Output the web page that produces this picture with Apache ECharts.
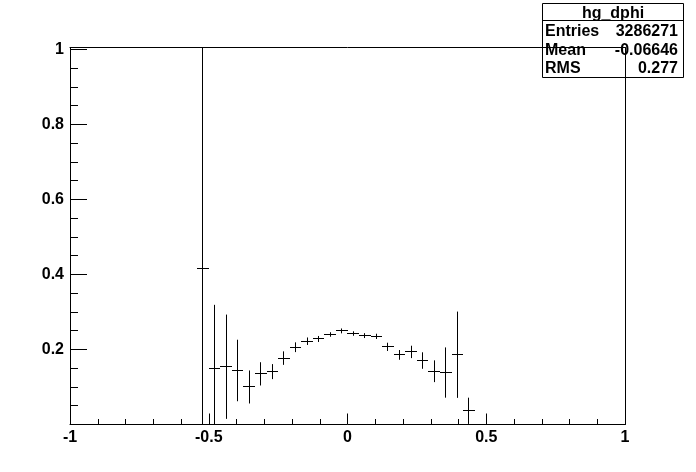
<!DOCTYPE html>
<html><head><meta charset="utf-8">
<script src="https://cdn.jsdelivr.net/npm/echarts@6/dist/echarts.min.js"></script>
<style>html,body{margin:0;padding:0;background:#fff}#c{width:696px;height:472px}</style>
</head><body><div id="c"></div>
<script>
// Histogram hg_dphi: bin centres, contents and errors
const binCenters = [-0.5208, -0.4792, -0.4375, -0.3958, -0.3542, -0.3125, -0.2708, -0.2292,
                    -0.1875, -0.1458, -0.1042, -0.0625, -0.0208, 0.0208, 0.0625, 0.1042,
                    0.1458, 0.1875, 0.2292, 0.2708, 0.3125, 0.3542, 0.3958, 0.4375];
const binValues  = [0.4155, 0.148, 0.154, 0.144, 0.100, 0.135, 0.141, 0.177,
                    0.206, 0.222, 0.228, 0.240, 0.2495, 0.2425, 0.237, 0.235,
                    0.207, 0.1855, 0.1935, 0.1705, 0.142, 0.1385, 0.186, 0.0365];
const binErrors  = [0.62, 0.171, 0.139, 0.082, 0.044, 0.031, 0.020, 0.018,
                    0.013, 0.010, 0.008, 0.006, 0.0065, 0.006, 0.0065, 0.007,
                    0.011, 0.013, 0.0165, 0.022, 0.029, 0.067, 0.115, 0.035];
const binWidth = 0.041667;
const yTickLabels = ['0.2', '0.4', '0.6', '0.8', '1'];
const statsTitle = 'hg_dphi';
const statsNames = ['Entries', 'Mean', 'RMS'];
const statsValues = ['3286271', '-0.06646', '0.277'];

const FONT = 'Liberation Sans, Arial, Helvetica, sans-serif';
const chart = echarts.init(document.getElementById('c'), null, {renderer: 'canvas'});

const snap = v => Math.round(v - 0.5) + 0.5;

const statsChildren = [
  {type: 'rect', shape: {x: 542.5, y: 3.5, width: 141, height: 74},
   style: {fill: '#fff', stroke: '#000', lineWidth: 1}},
  {type: 'line', shape: {x1: 542.5, y1: 20.5, x2: 683.5, y2: 20.5},
   style: {stroke: '#000', lineWidth: 1}},
  {type: 'text', x: 613, y: 13.5, style: {text: statsTitle, fill: '#000', font: 'bold 16px ' + FONT,
   textAlign: 'center', textVerticalAlign: 'middle'}}
];
const rowY = [31.5, 50.5, 68.5];
statsNames.forEach((n, i) => {
  statsChildren.push({type: 'text', x: 545, y: rowY[i], style: {text: n, fill: '#000',
    font: 'bold 16px ' + FONT, textAlign: 'left', textVerticalAlign: 'middle'}});
  statsChildren.push({type: 'text', x: 678, y: rowY[i], style: {text: statsValues[i], fill: '#000',
    font: 'bold 16px ' + FONT, textAlign: 'right', textVerticalAlign: 'middle'}});
});

const labelStyle = {color: '#000', fontFamily: FONT, fontWeight: 'bold', fontSize: 16};
const blackLine = {color: '#000', width: 1};

chart.setOption({
  animation: false,
  backgroundColor: '#fff',
  grid: {left: 70, right: 71, top: 47.5, bottom: 47.5, containLabel: false, show: false},
  xAxis: [{
    type: 'value', min: -1, max: 1, interval: 0.5, position: 'bottom',
    axisLine: {show: true, onZero: false, lineStyle: blackLine},
    axisTick: {show: true, inside: true, length: 11, lineStyle: blackLine},
    minorTick: {show: true, splitNumber: 5, length: 5.5, lineStyle: blackLine},
    splitLine: {show: false},
    axisLabel: Object.assign({margin: 5}, labelStyle)
  }, {
    type: 'value', min: -1, max: 1, position: 'top',
    axisLine: {show: true, onZero: false, lineStyle: blackLine},
    axisTick: {show: false}, axisLabel: {show: false}, splitLine: {show: false}
  }],
  yAxis: [{
    type: 'value', min: 0, max: 1.005, interval: 0.2, position: 'left',
    axisLine: {show: true, onZero: false, lineStyle: blackLine},
    axisTick: {show: true, inside: true, length: 17, lineStyle: blackLine},
    minorTick: {show: true, splitNumber: 4, length: 8, lineStyle: blackLine},
    splitLine: {show: false},
    axisLabel: Object.assign({margin: 6, formatter: function (v) {
      const s = String(Math.round(v * 10) / 10);
      return (v > 0.01 && v < 1.001 && yTickLabels.indexOf(s) >= 0) ? s : '';
    }}, labelStyle)
  }, {
    type: 'value', min: 0, max: 1.005, position: 'right',
    axisLine: {show: true, onZero: false, lineStyle: blackLine},
    axisTick: {show: false}, axisLabel: {show: false}, splitLine: {show: false}
  }],
  graphic: [{type: 'group', z: 100, children: statsChildren}],
  series: [{
    type: 'custom',
    xAxisIndex: 0, yAxisIndex: 0,
    clip: true,
    data: binCenters.map((c, i) => [c, binValues[i], binErrors[i]]),
    encode: {x: 0, y: 1},
    renderItem: function (params, api) {
      const x = api.value(0), y = api.value(1), e = api.value(2);
      const pL = api.coord([x - binWidth / 2, y]);
      const pR = api.coord([x + binWidth / 2, y]);
      const pT = api.coord([x, y + e]);
      const pB = api.coord([x, y - e]);
      const yy = snap(pL[1]), xx = snap(pT[0]);
      return {type: 'group', children: [
        {type: 'line', shape: {x1: Math.round(pL[0]), y1: yy, x2: Math.round(pR[0]), y2: yy},
         style: {stroke: '#000', lineWidth: 1}},
        {type: 'line', shape: {x1: xx, y1: pT[1], x2: xx, y2: pB[1]},
         style: {stroke: '#000', lineWidth: 1}}
      ]};
    }
  }]
});
</script>
</body></html>
